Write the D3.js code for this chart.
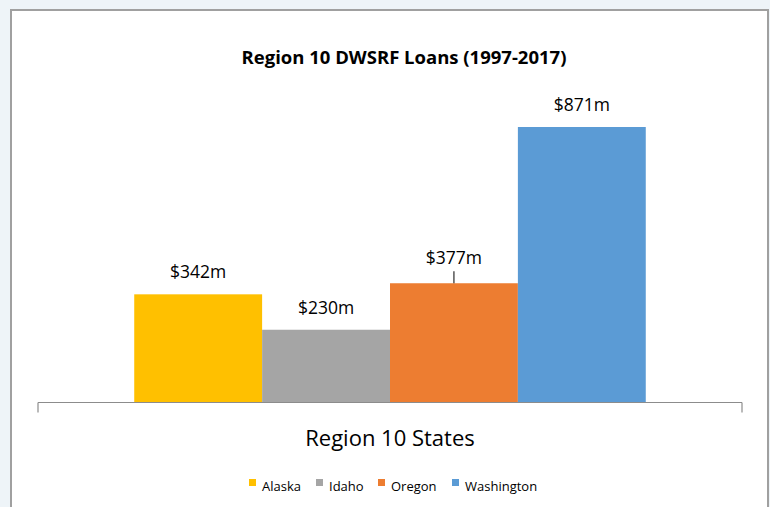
<!DOCTYPE html>
<html>
<head>
<meta charset="utf-8">
<script src="https://cdnjs.cloudflare.com/ajax/libs/d3/7.8.5/d3.min.js"></script>
<style>
  body { margin: 0; background: #eef4f8; }
  #chart { width: 770px; height: 507px; }
  text { font-family: "Open Sans", sans-serif; fill: #000; }
</style>
</head>
<body>
<div id="chart"></div>
<script>
// data
var states = ["Alaska", "Idaho", "Oregon", "Washington"];
var loans = [342, 230, 377, 871];          // $ millions
var colors = ["#FFC000", "#A5A5A5", "#ED7D31", "#5B9BD5"];
var yDomain = [0, 1000];
var chartTitle = "Region 10 DWSRF Loans (1997-2017)";
var axisTitle = "Region 10 States";

var width = 770, height = 507;
var plot = { left: 38, right: 742, top: 86.2, bottom: 402.5 };

var svg = d3.select("#chart").append("svg")
    .attr("width", width)
    .attr("height", height);

// chart frame
svg.append("rect")
    .attr("x", 11).attr("y", 10)
    .attr("width", 757).attr("height", 510)
    .attr("fill", "#fff")
    .attr("stroke", "#a0a0a0")
    .attr("stroke-width", 2);

// scales
var x = d3.scaleBand()
    .domain(states)
    .range([plot.left, plot.right])
    .paddingInner(0)
    .paddingOuter(0.7525);

var y = d3.scaleLinear()
    .domain(yDomain)
    .range([plot.bottom, plot.top]);

var rows = states.map(function(s, i) { return { state: s, value: loans[i], color: colors[i] }; });

// bars
svg.selectAll(".bar")
    .data(rows)
    .enter().append("rect")
    .attr("class", "bar")
    .attr("x", function(d) { return x(d.state); })
    .attr("y", function(d) { return y(d.value); })
    .attr("width", x.bandwidth())
    .attr("height", function(d) { return y(0) - y(d.value); })
    .attr("fill", function(d) { return d.color; });

// x axis: single category, ticks only at the ends
svg.append("line")
    .attr("x1", plot.left).attr("x2", plot.right)
    .attr("y1", plot.bottom).attr("y2", plot.bottom)
    .attr("stroke", "#8c8c8c").attr("stroke-width", 1.2);
[plot.left, plot.right].forEach(function(px) {
    svg.append("line")
        .attr("x1", px).attr("x2", px)
        .attr("y1", plot.bottom).attr("y2", plot.bottom + 10)
        .attr("stroke", "#8c8c8c").attr("stroke-width", 1.2);
});

// data labels (Oregon's is lifted with a leader line, as in the original)
var lifted = { "Oregon": 3 };
svg.selectAll(".label")
    .data(rows)
    .enter().append("text")
    .attr("class", "label")
    .attr("x", function(d) { return x(d.state) + x.bandwidth() / 2; })
    .attr("y", function(d) { return y(d.value) - 16 - (lifted[d.state] || 0); })
    .attr("text-anchor", "middle")
    .style("font-size", "17.5px")
    .text(function(d) { return "$" + d.value + "m"; });

svg.selectAll(".leader")
    .data(rows.filter(function(d) { return lifted[d.state]; }))
    .enter().append("line")
    .attr("class", "leader")
    .attr("x1", function(d) { return x(d.state) + x.bandwidth() / 2; })
    .attr("x2", function(d) { return x(d.state) + x.bandwidth() / 2; })
    .attr("y1", function(d) { return y(d.value) - 12; })
    .attr("y2", function(d) { return y(d.value); })
    .attr("stroke", "#000").attr("stroke-width", 1);

// titles
svg.append("text")
    .attr("x", 404).attr("y", 64)
    .attr("text-anchor", "middle")
    .style("font-size", "18.5px")
    .style("font-weight", "bold")
    .text(chartTitle);

svg.append("text")
    .attr("x", 390).attr("y", 446)
    .attr("text-anchor", "middle")
    .style("font-size", "22px")
    .text(axisTitle);

// legend
var legendX = [249, 316, 378, 452];
var legend = svg.selectAll(".legend")
    .data(rows)
    .enter().append("g")
    .attr("class", "legend")
    .attr("transform", function(d, i) { return "translate(" + legendX[i] + ",479)"; });
legend.append("rect")
    .attr("width", 7).attr("height", 7)
    .attr("fill", function(d) { return d.color; });
legend.append("text")
    .attr("x", 13).attr("y", 12)
    .style("font-size", "13px")
    .text(function(d) { return d.state; });
</script>
</body>
</html>
